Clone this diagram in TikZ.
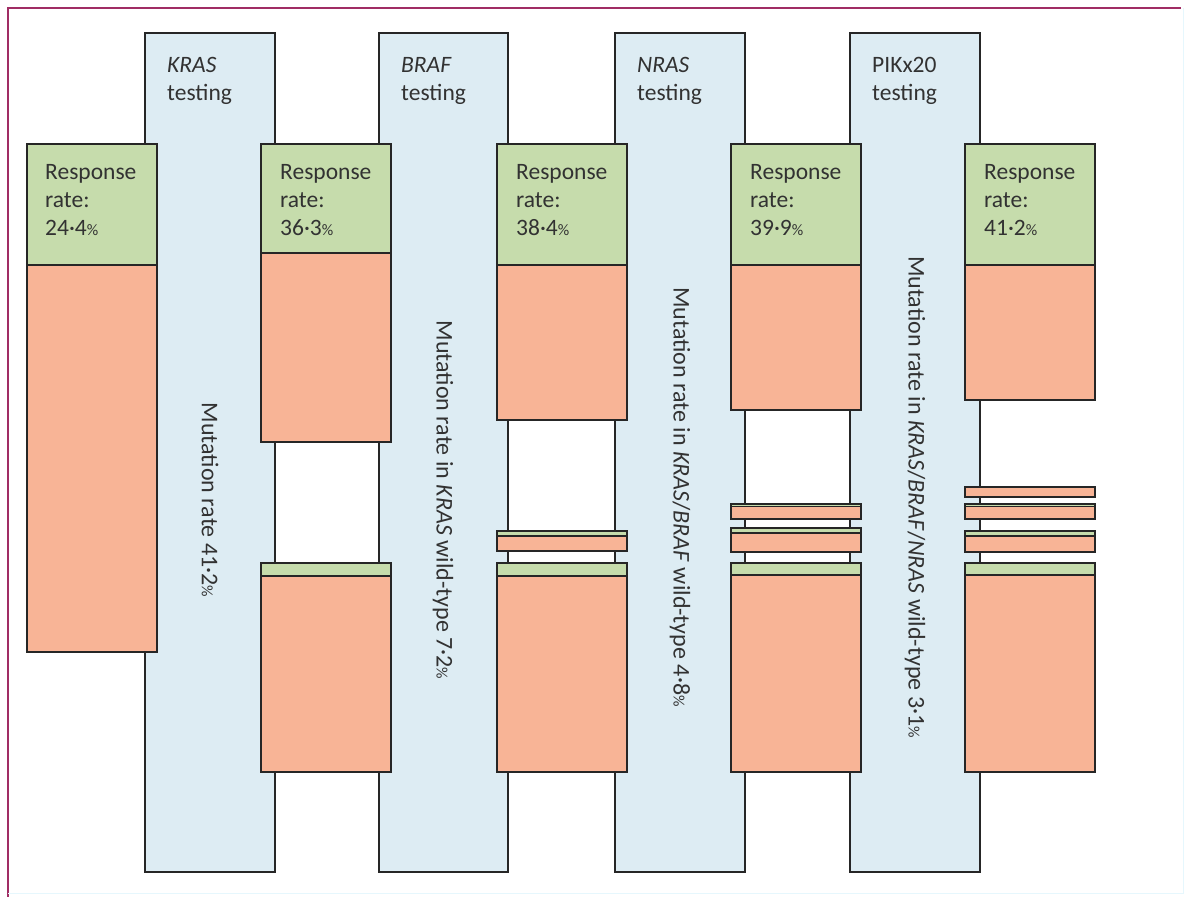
\documentclass[tikz,border=0pt]{standalone}
\usepackage{fontspec}
\setmainfont{Carlito}
\definecolor{colblue}{RGB}{221,236,243}
\definecolor{rrgreen}{RGB}{198,220,172}
\definecolor{rrsalmon}{RGB}{248,180,150}
\definecolor{framepink}{RGB}{160,45,100}
\definecolor{txtgray}{RGB}{50,50,50}
\newcommand{\pc}{{\fontsize{16}{16}\selectfont\%}}
\begin{document}
\begin{tikzpicture}[x=1pt,y=-1pt,
  testcol/.style={draw=black!85, line width=1.2pt, fill=colblue},
  rrtop/.style={draw=black!85, line width=1.2pt, fill=rrgreen},
  rrbody/.style={draw=black!85, line width=1.2pt, fill=rrsalmon},
  head/.style={anchor=base west, inner sep=0pt, align=left, text=txtgray,
    font=\fontsize{23.5}{28}\selectfont},
  ratelabel/.style={rotate=-90, inner sep=0pt, text=txtgray,
    font=\fontsize{24}{28}\selectfont}]
 \useasboundingbox (0,0) rectangle (1189,897);
 \fill[white] (0,0) rectangle (1189,897);
 % frame
 \draw[framepink, line width=1.4pt] (8,897)--(8,8)--(1181,8);
 \draw[cyan!10, line width=1pt] (1183,8)--(1183,893)--(8,893);

 % testing columns
 \draw[testcol] (145,33) rectangle (275,872);
 \draw[testcol] (379,33) rectangle (508,872);
 \draw[testcol] (615,33) rectangle (745,872);
 \draw[testcol] (850,33) rectangle (980,872);

 % response rate blocks
 \draw[rrtop] (27,144) rectangle (157,265);
 \draw[rrbody] (27,265) rectangle (157,652);

 \draw[rrtop] (261,144) rectangle (391,253);
 \draw[rrbody] (261,253) rectangle (391,442);
 \draw[rrtop] (261,563) rectangle (391,576);
 \draw[rrbody] (261,576) rectangle (391,772);

 \draw[rrtop] (497,144) rectangle (627,265);
 \draw[rrbody] (497,265) rectangle (627,420);
 \draw[rrtop] (497,531) rectangle (627,536);
 \draw[rrbody] (497,536) rectangle (627,551);
 \draw[rrtop] (497,563) rectangle (627,576);
 \draw[rrbody] (497,576) rectangle (627,772);

 \draw[rrtop] (731,144) rectangle (861,265);
 \draw[rrbody] (731,265) rectangle (861,410);
 \draw[rrtop] (731,504) rectangle (861,506.5);
 \draw[rrbody] (731,506.5) rectangle (861,519);
 \draw[rrtop] (731,528) rectangle (861,533);
 \draw[rrbody] (731,533) rectangle (861,552);
 \draw[rrtop] (731,563) rectangle (861,575);
 \draw[rrbody] (731,575) rectangle (861,772);

 \draw[rrtop] (965,144) rectangle (1095,265);
 \draw[rrbody] (965,265) rectangle (1095,400);
 \draw[rrbody] (965,487) rectangle (1095,497);
 \draw[rrtop] (965,504) rectangle (1095,506.5);
 \draw[rrbody] (965,506.5) rectangle (1095,519);
 \draw[rrtop] (965,531) rectangle (1095,536);
 \draw[rrbody] (965,536) rectangle (1095,552);
 \draw[rrtop] (965,563) rectangle (1095,575);
 \draw[rrbody] (965,575) rectangle (1095,772);

 % column heads (anchored on their last line)
 \node[head] (kras) at (167,100) {\textit{KRAS}\\testing};
 \node[head] (braf) at (401,100) {\textit{BRAF}\\testing};
 \node[head] (nras) at (637,100) {\textit{NRAS}\\testing};
 \node[head] (pikx) at (872,100) {PIKx20\\testing};

 \node[head] (rr1) at (45,235) {Response\\rate:\\24·4\pc};
 \node[head] (rr2) at (280,235) {Response\\rate:\\36·3\pc};
 \node[head] (rr3) at (516,235) {Response\\rate:\\38·4\pc};
 \node[head] (rr4) at (750,235) {Response\\rate:\\39·9\pc};
 \node[head] (rr5) at (984,235) {Response\\rate:\\41·2\pc};

 % mutation rates
 \node[ratelabel] (mut1) at (210,500) {Mutation rate 41·2\pc};
 \node[ratelabel] (mut2) at (443,500) {Mutation rate in \textit{KRAS} wild-type 7·2\pc};
 \node[ratelabel] (mut3) at (680,497) {Mutation rate in \textit{KRAS}/\textit{BRAF} wild-type 4·8\pc};
 \node[ratelabel] (mut4) at (915,497) {Mutation rate in \textit{KRAS}/\textit{BRAF}/\textit{NRAS} wild-type 3·1\pc};
\end{tikzpicture}
\end{document}
